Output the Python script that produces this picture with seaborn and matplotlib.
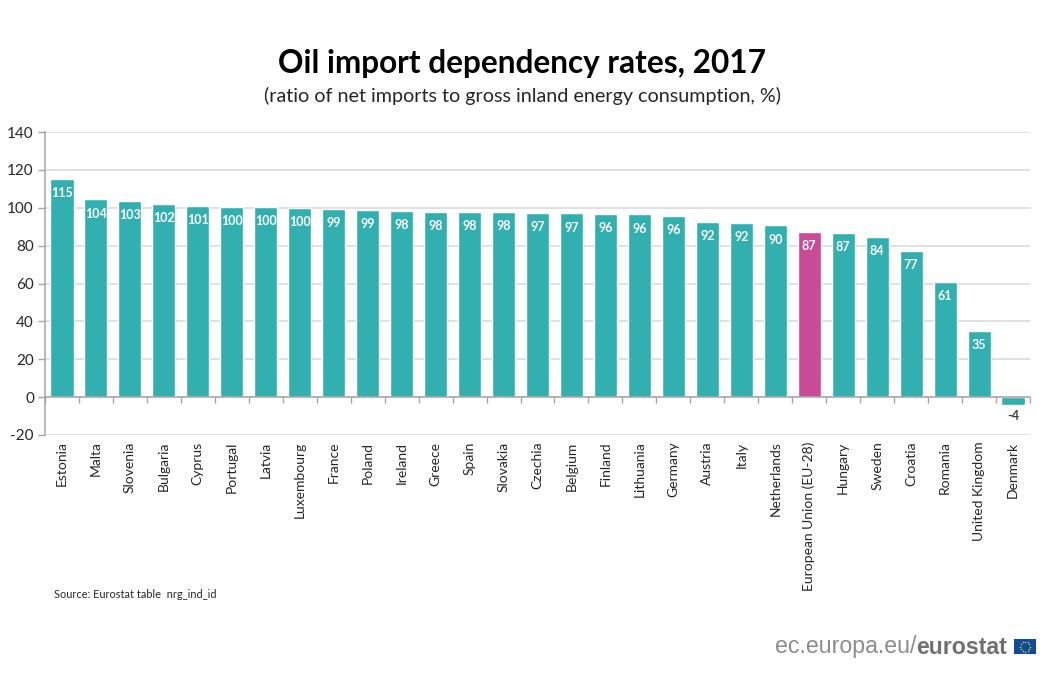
import numpy as np
import pandas as pd
import matplotlib
matplotlib.use('Agg')
import matplotlib.pyplot as plt
from matplotlib.patches import Rectangle
import seaborn as sns

countries = ['Estonia', 'Malta', 'Slovenia', 'Bulgaria', 'Cyprus', 'Portugal', 'Latvia',
             'Luxembourg', 'France', 'Poland', 'Ireland', 'Greece', 'Spain', 'Slovakia',
             'Czechia', 'Belgium', 'Finland', 'Lithuania', 'Germany', 'Austria', 'Italy',
             'Netherlands', 'European Union (EU-28)', 'Hungary', 'Sweden', 'Croatia',
             'Romania', 'United Kingdom', 'Denmark']
values = [115.2, 104.4, 103.4, 101.9, 101.0, 100.4, 100.4, 100.1, 99.4, 98.9, 98.4, 98.0,
          98.0, 97.7, 97.2, 97.0, 96.6, 96.5, 95.9, 92.5, 91.9, 90.7, 87.1, 86.7, 84.5,
          77.4, 60.8, 35.0, -4.0]
labels = [115, 104, 103, 102, 101, 100, 100, 100, 99, 99, 98, 98, 98, 98, 97, 97, 96, 96,
          96, 92, 92, 90, 87, 87, 84, 77, 61, 35, -4]
y_ticks = [-20, 0, 20, 40, 60, 80, 100, 120, 140]

TEAL = '#32b0b0'
PINK = '#c94b98'
GRID = '#d9d9d9'
AXIS = '#a6a6a6'
TEXT = '#262626'

sns.set_theme(style='white')
plt.rcParams['font.family'] = ['Lato', 'DejaVu Sans']
plt.rcParams['axes.unicode_minus'] = False

df = pd.DataFrame({'country': countries, 'value': values})
colors = {c: (PINK if 'European' in c else TEAL) for c in countries}

fig = plt.figure(figsize=(10.5, 7), dpi=100)
ax = fig.add_axes([45 / 1050, 1 - 435 / 700, 985 / 1050, 303 / 700])

sns.barplot(data=df, x='country', y='value', hue='country', palette=colors,
            dodge=False, legend=False, width=0.68, saturation=1, ax=ax, zorder=3)

# valeurs dans les barres, sauf le negatif qui passe dessous
for cont, lab, val in zip(ax.containers, labels, values):
    if val < 0:
        ax.bar_label(cont, labels=[str(lab)], padding=4, fontsize=9, fontweight='bold', color='#404040')
    else:
        ax.bar_label(cont, labels=[str(lab)], padding=-14.5, fontsize=9, fontweight='bold', color='white')

ax.set_xlim(-0.5, len(countries) - 0.5)
ax.set_ylim(-20, 140)
ax.set_yticks(y_ticks)
ax.set_xlabel('')
ax.set_ylabel('')
ax.grid(axis='y', color=GRID, linewidth=1.1, zorder=0)
ax.set_axisbelow(True)

for side in ['top', 'right']:
    ax.spines[side].set_visible(False)
ax.spines['left'].set_color(AXIS)
ax.spines['left'].set_linewidth(1.1)
ax.spines['bottom'].set_position(('data', 0))
ax.spines['bottom'].set_color(AXIS)
ax.spines['bottom'].set_linewidth(1.1)
ax.spines['bottom'].set_zorder(4)

ax.tick_params(axis='y', which='major', left=True, length=5, width=1, color=AXIS,
               labelsize=11, labelcolor=TEXT, pad=3)
ax.set_xticks(np.arange(-0.5, len(countries)), minor=True)
ax.tick_params(axis='x', which='minor', bottom=True, length=4, width=1, color=AXIS)
ax.tick_params(axis='x', which='major', bottom=False, length=0, pad=32, labelsize=10, labelcolor=TEXT)
ax.set_xticks(range(len(countries)))
ax.set_xticklabels(countries, rotation=90, ha='center', va='top')

fig.text(522 / 1050, 1 - 63.5 / 700, 'Oil import dependency rates, 2017', ha='center', va='center',
         fontsize=22.7, fontweight='bold', color='black')
fig.text(522 / 1050, 1 - 95.5 / 700, '(ratio of net imports to gross inland energy consumption, %)',
         ha='center', va='center', fontsize=14.2, color=TEXT)
fig.text(54 / 1050, 1 - 594 / 700, 'Source: Eurostat table  nrg_ind_id', ha='left', va='center',
         fontsize=7.9, color=TEXT)

# logo eurostat
url = fig.text(775 / 1050, 1 - 647 / 700, 'ec.europa.eu/', ha='left', va='center', fontsize=16.7,
               color='#8c8c8c', family=['Liberation Sans'])
fig.canvas.draw()
bb = url.get_window_extent()
fig.text(bb.x1 / 1050, 1 - 647 / 700, 'eurostat', ha='left', va='center', fontsize=16.7,
         fontweight='bold', color='#707070', family=['Liberation Sans'])

flag = fig.add_axes([1014 / 1050, 1 - 654 / 700, 22 / 1050, 15 / 700])
flag.set_xlim(-1.1, 1.1)
flag.set_ylim(-0.75, 0.75)
flag.axis('off')
flag.add_patch(Rectangle((-1.1, -0.75), 2.2, 1.5, color='#0f4c9c'))
angles = np.arange(12) * np.pi / 6
flag.scatter(0.5 * np.cos(angles), 0.5 * np.sin(angles), s=1.2, color='#e6d21e', linewidths=0)

fig.savefig('out.png', dpi=100, facecolor='white')
